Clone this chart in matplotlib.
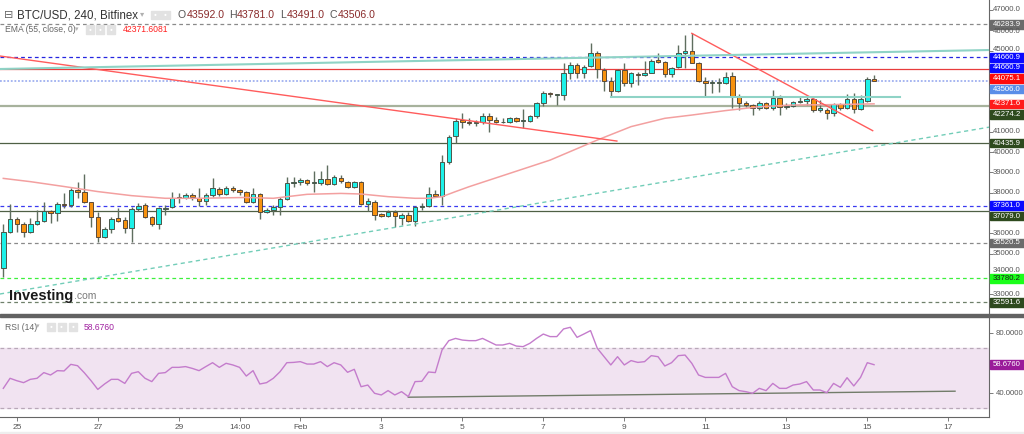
import matplotlib
matplotlib.use("Agg")
import matplotlib.pyplot as plt
from matplotlib.patches import Rectangle
import numpy as np

plt.rcParams['font.family'] = ['Liberation Sans', 'DejaVu Sans']

# -----------------------------
# Data: BTC/USD 4h candles (Bitfinex)
# -----------------------------
opens = [34270, 36080, 36680, 36450, 36080, 36450, 36600, 37110, 36980, 37440,
         37370, 38130, 38010, 37520, 36810, 35800, 36210, 36730, 36650, 36240,
         37190, 37390, 36810, 36450, 37190, 37270, 37770, 37750, 37880, 37720,
         37600, 37880, 38180, 37930, 38210, 38130, 38010, 37520, 37930, 37030,
         37140, 37310, 37690, 38460, 38510, 38620, 38470, 38460, 38650, 38410,
         38740, 38540, 38260, 38540, 37440, 37550, 36930, 36850, 37060, 36770,
         36900, 36600, 37310, 37340, 37930, 37850, 39520, 40790, 41580, 41490,
         41410, 41460, 41790, 41580, 41460, 41490, 41690, 41540, 41540, 41770,
         42400, 42920, 42810, 42810, 43910, 44290, 43880, 44240, 44890, 44040,
         43510, 43020, 44040, 43380, 43840, 43790, 43910, 44530, 44430, 43840,
         44170, 44890, 44990, 44400, 43510, 43420, 43380, 43380, 43740, 42760,
         42430, 42320, 42150, 42430, 42150, 42680, 42230, 42270, 42450, 42510,
         42610, 42070, 42070, 41940, 42350, 42150, 42590, 42120, 42530, 43592]
highs = [36450, 37440, 36810, 36570, 36730, 37140, 37550, 37140, 37550, 37960,
         38210, 38510, 38920, 37550, 37060, 36320, 36810, 37230, 36810, 37270,
         37470, 37470, 36860, 37310, 37390, 38050, 38000, 37960, 37960, 38240,
         38000, 38700, 38290, 38330, 38330, 38160, 38100, 38210, 37960, 37230,
         37390, 37800, 38750, 38750, 38700, 38650, 39080, 39080, 39360, 38870,
         38870, 38590, 38590, 38590, 37720, 37640, 36980, 37140, 37140, 36980,
         37060, 37340, 37470, 38290, 38130, 39850, 40840, 41660, 41910, 41660,
         41580, 41910, 41910, 41710, 41660, 41740, 41740, 42100, 41820, 42480,
         43020, 42970, 42840, 44400, 44450, 44400, 44290, 45390, 44990, 44120,
         43710, 44070, 44400, 43960, 43960, 44500, 44560, 44860, 44500, 44170,
         45270, 45760, 45850, 44450, 43710, 43550, 43630, 43960, 43960, 42860,
         42510, 42360, 42530, 42480, 43050, 42810, 42430, 42510, 42720, 42760,
         42690, 42560, 42180, 42400, 42400, 42840, 42890, 42810, 43680, 43781]
lows = [33830, 35990, 36080, 35800, 36030, 36400, 36570, 36490, 36620, 37230,
        37310, 37720, 37470, 36320, 35580, 35750, 35990, 36570, 35990, 35580,
        37110, 36730, 36360, 36210, 36900, 37230, 37470, 37690, 37640, 37360,
        37390, 37800, 37830, 37880, 38010, 37880, 37470, 37470, 36700, 36980,
        36900, 36900, 37640, 38260, 38370, 38370, 38050, 38370, 38370, 38370,
        38490, 38210, 38210, 37390, 37110, 36650, 36810, 36810, 36320, 36400,
        36540, 36360, 37140, 37310, 37800, 37390, 39400, 40430, 41170, 41330,
        41280, 41360, 41000, 41410, 41410, 41410, 41490, 41170, 41490, 41660,
        42270, 42730, 42320, 42560, 43580, 43630, 43630, 44170, 43630, 43020,
        42760, 42970, 43250, 43220, 43300, 43740, 43880, 44370, 43710, 43710,
        44120, 44120, 44370, 43470, 42760, 42890, 42970, 43350, 42150, 42070,
        42230, 41820, 42070, 42100, 42070, 41820, 42100, 42200, 42430, 42320,
        41990, 41990, 41610, 41770, 42070, 42100, 41900, 42070, 42480, 43491]
closes = [36080, 36680, 36450, 36040, 36450, 36600, 37110, 36980, 37440, 37370,
          38130, 38030, 37520, 36810, 35800, 36210, 36700, 36620, 36240, 37190,
          37360, 36810, 36450, 37230, 37230, 37720, 37720, 37880, 37770, 37600,
          37880, 38210, 37930, 38240, 38130, 38010, 37520, 37930, 37030, 37140,
          37310, 37690, 38460, 38540, 38620, 38460, 38510, 38650, 38420, 38750,
          38570, 38260, 38540, 37440, 37600, 36900, 36850, 37060, 36850, 36900,
          36600, 37310, 37340, 37920, 37850, 39520, 40760, 41540, 41490, 41410,
          41490, 41790, 41580, 41460, 41490, 41690, 41540, 41580, 41770, 42400,
          42920, 42840, 42840, 43910, 44290, 43880, 44200, 44890, 44070, 43510,
          43020, 44040, 43380, 43910, 43790, 43910, 44500, 44430, 43840, 44120,
          44890, 44990, 44400, 43510, 43420, 43470, 43430, 43680, 42760, 42400,
          42320, 42150, 42430, 42150, 42680, 42230, 42270, 42450, 42530, 42610,
          42070, 42150, 41940, 42350, 42150, 42590, 42120, 42590, 43600, 43506]

# EMA(55) read at a few candles
ema_idx = [0, 4, 9, 14, 19, 24, 29, 36, 40, 45, 50, 53, 57, 61, 63, 65, 67, 69,
           81, 88, 93, 98, 102, 107, 112, 117, 122, 129]
ema_val = [38700, 38540, 38300, 38050, 37850, 37720, 37720, 37760, 37720, 37915,
           37960, 37930, 37800, 37720, 37720, 37800, 38050, 38290, 39600, 40590,
           41250, 41660, 41820, 42040, 42230, 42315, 42330, 42372]

# RSI(14), one value per candle
rsi = [42.9, 49.6, 48.0, 46.7, 48.9, 49.6, 53.4, 51.8, 54.7, 54.5,
       58.9, 58.0, 53.3, 48.0, 42.2, 45.8, 48.9, 48.9, 46.2, 52.9,
       54.0, 49.6, 47.4, 52.9, 53.4, 56.9, 56.9, 57.4, 56.2, 54.7,
       57.4, 60.0, 56.9, 59.6, 58.5, 56.9, 51.1, 54.7, 45.8, 46.7,
       49.6, 54.0, 60.0, 60.2, 60.7, 59.1, 59.1, 60.7, 57.4, 60.0,
       58.5, 53.6, 55.6, 44.0, 45.1, 39.6, 38.5, 41.4, 38.5, 40.7,
       37.4, 47.4, 47.6, 53.8, 53.4, 68.5, 74.7, 76.2, 75.1, 74.7,
       74.7, 76.2, 74.0, 71.8, 71.8, 72.9, 71.1, 70.7, 72.9, 76.2,
       79.1, 77.4, 77.4, 82.5, 83.6, 76.9, 79.1, 81.4, 69.6, 64.0,
       58.5, 64.0, 58.5, 61.4, 60.2, 60.7, 64.7, 64.0, 57.8, 60.0,
       64.7, 65.1, 59.6, 51.8, 50.2, 50.2, 50.2, 52.9, 44.0, 41.4,
       40.7, 39.6, 42.9, 41.4, 46.2, 42.9, 42.9, 45.1, 45.8, 47.4,
       41.8, 41.8, 40.0, 46.2, 43.6, 50.0, 44.5, 50.2, 60.0, 58.676]

# horizontal levels drawn on the chart
level_prices = [46283.9, 44660.9, 44075.1, 43506.0, 42274.2, 40435.9,
                37361.0, 37079.0, 35520.5, 33780.2, 32591.6]

# trend lines: (idx0, price0, idx1, price1)
red_lines = [(-0.5, 44729, 90.9, 40540), (102.0, 45846, 128.8, 41051)]
teal_lines = [(-0.5, 44089, 146.2, 45025), (90.0, 42723, 132.9, 42723)]
teal_dashed = (-0.5, 33005, 146.2, 41232)
rsi_trend = (60, 37.0, 141, 41.0)

# right-hand price labels
axis_labels = [46283.9, 44660.9, 44660.9, 44075.1, 43506.0, 42371.6, 42274.2,
               40435.9, 37361.0, 37079.0, 35520.5, 33780.2, 32591.6]
price_ticks = list(range(33000, 47001, 1000))

# header OHLC of the last candle
ohlc_keys = ['O', 'H', 'L', 'C']
ohlc_vals = ['43592.0', '43781.0', '43491.0', '43506.0']

# x axis
xtick_idx = [2, 14, 26, 35, 44, 56, 68, 80, 92, 104, 116, 128, 140]
xtick_lbl = ['25', '27', '29', '14:00', 'Feb', '3', '5', '7', '9', '11', '13', '15', '17']

# -----------------------------
# Layout
# -----------------------------
W, H = 1024, 434
fig = plt.figure(figsize=(W / 100, H / 100), dpi=100)


def frect(x0, y0, x1, y1):
    # pixel box (top-left origin) -> figure fraction
    return [x0 / W, 1 - y1 / H, (x1 - x0) / W, (y1 - y0) / H]


ax = fig.add_axes(frect(0, 0, 989, 313))
ax_rsi = fig.add_axes(frect(0, 317, 989, 417))
ax.set_xlim(-0.49, 146.03)
ax_rsi.set_xlim(-0.49, 146.03)
ax.set_ylim(32069, 47488)
ax_rsi.set_ylim(23.8, 90.47)

grey_txt = '#555555'
for a in (ax, ax_rsi):
    for s in ('top', 'left', 'bottom'):
        a.spines[s].set_visible(False)
    a.spines['right'].set_color('#666666')
    a.spines['right'].set_linewidth(0.8)
    a.yaxis.tick_right()
    a.tick_params(axis='y', length=3, width=0.6, color='#666666', labelsize=5.6,
                  labelcolor=grey_txt, pad=2)
ax.tick_params(axis='x', bottom=False, labelbottom=False)
ax_rsi.spines['bottom'].set_visible(True)
ax_rsi.spines['bottom'].set_color('#666666')
ax_rsi.spines['bottom'].set_linewidth(0.8)

ax.set_yticks(price_ticks)
ax.tick_params(axis='y', labelright=False)
ax_rsi.set_yticks([40, 80])
ax_rsi.set_yticklabels(['40.0000', '80.0000'])
ax_rsi.set_xticks(xtick_idx)
ax_rsi.set_xticklabels(xtick_lbl)
ax_rsi.tick_params(axis='x', length=3, width=0.6, color='#666666', labelsize=6,
                   labelcolor=grey_txt, pad=2)

# -----------------------------
# Horizontal levels
# -----------------------------
level_styles = [
    dict(color='#8a8a8a', ls=(0, (3, 2.5)), lw=0.9),
    dict(color='#2525e0', ls=(0, (3, 2.5)), lw=0.9),
    dict(color='#e83c3c', ls='-', lw=0.9),
    dict(color='#9fb0f0', ls=(0, (1, 1)), lw=1.3),
    dict(color='#a7b29c', ls='-', lw=1.6),
    dict(color='#4f6045', ls='-', lw=0.9),
    dict(color='#3a3af0', ls=(0, (3, 2.5)), lw=0.9),
    dict(color='#4f6045', ls='-', lw=0.9),
    dict(color='#8a8a8a', ls=(0, (3, 2.5)), lw=0.9),
    dict(color='#3cf03c', ls=(0, (3, 2.5)), lw=0.9),
    dict(color='#6f806a', ls=(0, (3, 2.5)), lw=0.9),
]
for p, st in zip(level_prices, level_styles):
    ax.axhline(p, zorder=1, **st)

# -----------------------------
# Candles
# -----------------------------
idx = np.arange(len(opens))
o = np.array(opens)
c = np.array(closes)
up = c >= o
ax.vlines(idx, lows, highs, color='#5f6e5f', lw=1.0, zorder=2)
body_lo = np.minimum(o, c)
body_h = np.maximum(np.abs(c - o), 25)
ax.bar(idx[up], body_h[up], bottom=body_lo[up], width=0.66, color='#1cf0e8',
       edgecolor='#4a574a', linewidth=0.7, zorder=3)
ax.bar(idx[~up], body_h[~up], bottom=body_lo[~up], width=0.66, color='#f7920f',
       edgecolor='#5a4a3a', linewidth=0.7, zorder=3)

# EMA
ax.plot(ema_idx, ema_val, color='#f3a0a0', lw=1.1, zorder=4)

# trend lines
for x0, y0, x1, y1 in red_lines:
    ax.plot([x0, x1], [y0, y1], color='#ff5c5c', lw=1.0, zorder=5)
for x0, y0, x1, y1 in teal_lines:
    ax.plot([x0, x1], [y0, y1], color='#8fd3c6', lw=1.5, zorder=5)
x0, y0, x1, y1 = teal_dashed
ax.plot([x0, x1], [y0, y1], color='#72cdb8', lw=1.0, ls=(0, (3, 2.5)), zorder=5)

# Investing.com watermark
t_inv = ax.text(9.5 / 989, 1 - 296 / 313, 'Investing', transform=ax.transAxes,
                fontsize=10.5, fontweight='bold', color='#1a1a1a', va='center',
                ha='left', zorder=6)
ax.annotate('.com', xy=(1, 0.12), xycoords=t_inv, fontsize=7.5, color='#7a7a7a',
            va='bottom', ha='left', zorder=6)

# -----------------------------
# RSI panel
# -----------------------------
ax_rsi.axhspan(30, 70, color='#f1e3f1', zorder=0)
ax_rsi.axhline(70, color='#b8a8b8', lw=0.9, ls=(0, (3, 2.5)), zorder=1)
ax_rsi.axhline(30, color='#b8a8b8', lw=0.9, ls=(0, (3, 2.5)), zorder=1)
ax_rsi.plot(np.arange(len(rsi)), rsi, color='#c47ccc', lw=1.0, zorder=3)
x0, y0, x1, y1 = rsi_trend
ax_rsi.plot([x0, x1], [y0, y1], color='#727c6a', lw=1.0, zorder=2)

# separator between panels and bottom strip
fig.add_artist(Rectangle((0, 1 - 316.5 / H), 1, 2.5 / H, transform=fig.transFigure,
                         color='#626262', zorder=2))
fig.add_artist(Rectangle((0, 0), 1, 2.5 / H, transform=fig.transFigure,
                         color='#eeeeee', zorder=2))

# -----------------------------
# Right-hand price label boxes (stacked so they don't collide)
# -----------------------------
label_colors = ['#6b6b6b', '#0a0aff', '#0a0aff', '#ff0a0a', '#5a8ee8', '#ff1a1a',
                '#2e4a1e', '#2e4a1e', '#0a0aff', '#2e4a1e', '#6b6b6b', '#1aff1a',
                '#2e4a1e']
box_h, step = 8.6, 10.6
box_y = []
prev = None
for p, col in zip(axis_labels, label_colors):
    y = ax.transData.transform((0, p))[1]
    if prev is not None and prev - y < step:
        y = prev - step
    prev = y
    box_y.append(y)
    fig.add_artist(Rectangle((990 / W, (y - box_h / 2) / H), 34 / W, box_h / H,
                             transform=fig.transFigure, color=col, zorder=3))
    fig.text(993 / W, y / H, f"{p:.1f}", fontsize=5.6, va='center', ha='left',
             color='#1a1a1a' if col == '#1aff1a' else 'white', zorder=4)

# plain price ticks: nudge away from boxes, drop the ones fully covered
need = box_h / 2 + 3.2
for v in price_ticks:
    ty = ax.transData.transform((0, v))[1]
    d = [ty - by for by in box_y]
    k = int(np.argmin(np.abs(d)))
    if abs(d[k]) < need:
        if abs(d[k]) < box_h / 2 - 1:
            continue
        ty = box_y[k] + np.sign(d[k]) * need
        if min(abs(ty - by) for by in box_y) < need - 0.1:
            continue
    fig.text(993 / W, ty / H, f"{v:.1f}", fontsize=5.6, va='center', ha='left',
             color=grey_txt)

y = ax_rsi.transData.transform((0, rsi[-1]))[1]
fig.add_artist(Rectangle((990 / W, (y - box_h / 2) / H), 34 / W, box_h / H,
                         transform=fig.transFigure, color='#9a1a9a', zorder=3))
fig.text(993 / W, y / H, f"{rsi[-1]:.4f}", fontsize=5.6, va='center', ha='left',
         color='white', zorder=4)

# -----------------------------
# Header / legend rows
# -----------------------------


def icons(xs, ytop, size=8.5):
    for xi in xs:
        fig.add_artist(Rectangle((xi / W, 1 - (ytop + size) / H), size / W, size / H,
                                 transform=fig.transFigure, color='#e2e2e2', zorder=3))
        fig.text((xi + size / 2) / W, 1 - (ytop + size / 2) / H, '\u25cf', fontsize=3.5,
                 color='white', ha='center', va='center', zorder=4)


def ftxt(x, y, s, **kw):
    return fig.text(x / W, 1 - y / H, s, va='center', ha='left', **kw)


ftxt(4, 14.5, '\u229f', fontsize=8, color='#666666')
ftxt(17, 15, 'BTC/USD, 240, Bitfinex', fontsize=8.3, color='#333333')
ftxt(140, 15, '\u25be', fontsize=6, color='#b0b0b0')
icons([151, 161], 10.5)
for x, k, v in zip([178, 229, 280, 330], ohlc_keys, ohlc_vals):
    t = ftxt(x, 15, k, fontsize=7.6, color='#555555')
    ax.annotate(v, xy=(1, 0.5), xycoords=t, xytext=(0.4, 0), textcoords='offset points',
                fontsize=7.6, color='#8a2b2b', va='center', ha='left',
                annotation_clip=False)

ftxt(5, 29.5, 'EMA (55, close, 0)', fontsize=6.2, color='#666666')
ftxt(75, 29.5, '\u25be', fontsize=5, color='#b0b0b0')
icons([86, 96, 107], 25.5, 8)
ftxt(123, 29.5, '42371.6081', fontsize=6.2, color='#ff2020')

ftxt(5, 327, 'RSI (14)', fontsize=6.2, color='#666666')
ftxt(36, 327, '\u25be', fontsize=5, color='#b0b0b0')
icons([47, 57.5, 69], 323, 8)
ftxt(84, 327, '58.6760', fontsize=6.2, color='#a020a0')

fig.savefig('out.png', dpi=100)
